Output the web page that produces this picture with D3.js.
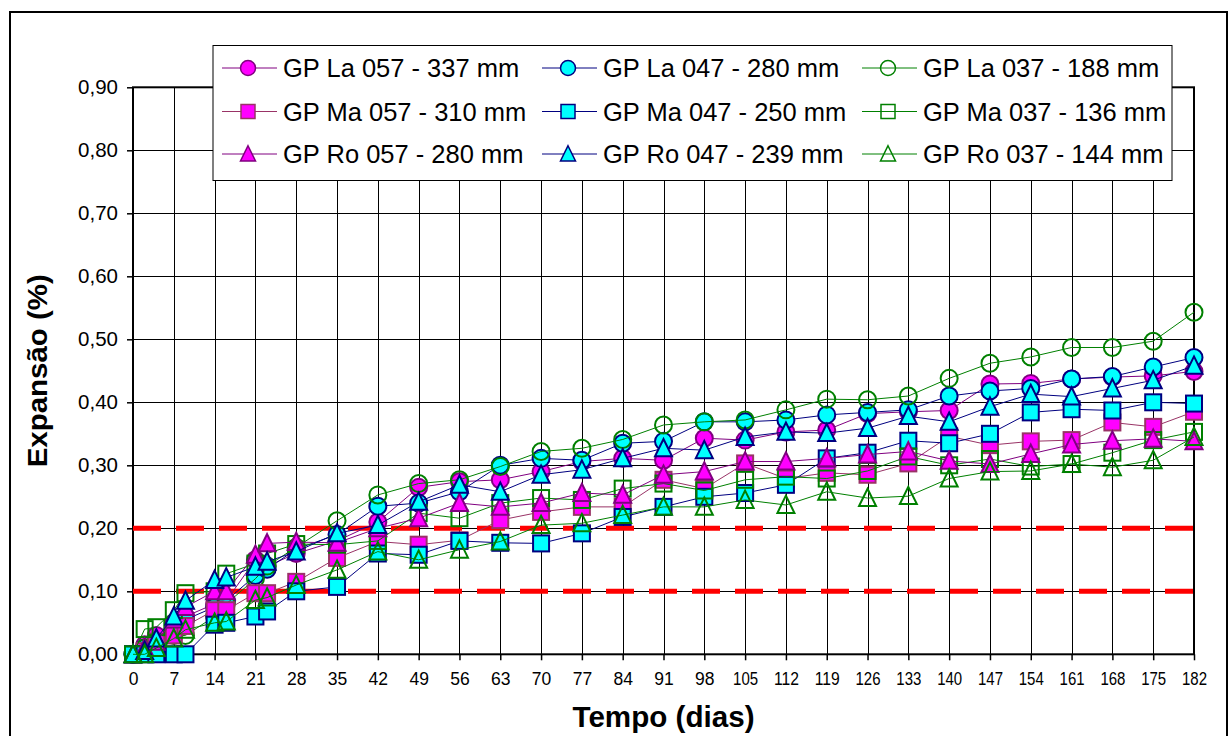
<!DOCTYPE html>
<html>
<head>
<meta charset="utf-8">
<script src="https://cdn.jsdelivr.net/npm/d3@7"></script>
<style>
  html, body { margin: 0; padding: 0; background: #fff; }
  svg { display: block; font-family: "Liberation Sans", Arial, sans-serif; }
</style>
</head>
<body>
<svg id="chart" width="1231" height="736"></svg>
<script>
// ---------- data ----------
const days = [0, 2, 4, 7, 9, 14, 16, 21, 23, 28, 35, 42, 49, 56, 63, 70, 77, 84, 91, 98, 105, 112, 119, 126, 133, 140, 147, 154, 161, 168, 175, 182];

const la057 = [0, 0.015, 0.03, 0.05, 0.06, 0.08, 0.085, 0.15, 0.14, 0.16, 0.18, 0.21, 0.265, 0.274, 0.277, 0.29, 0.306, 0.311, 0.308, 0.343, 0.34, 0.353, 0.356, 0.382, 0.385, 0.387, 0.429, 0.43, 0.437, 0.44, 0.442, 0.449];
const la047 = [0, 0.01, 0.02, 0.04, 0.055, 0.075, 0.085, 0.125, 0.135, 0.167, 0.19, 0.235, 0.24, 0.258, 0.30, 0.311, 0.308, 0.335, 0.338, 0.369, 0.369, 0.372, 0.38, 0.384, 0.388, 0.41, 0.418, 0.422, 0.437, 0.441, 0.456, 0.471];
const la037 = [0, 0.01, 0.02, 0.03, 0.03, 0.06, 0.08, 0.12, 0.14, 0.17, 0.212, 0.253, 0.271, 0.277, 0.298, 0.322, 0.327, 0.341, 0.364, 0.369, 0.372, 0.388, 0.405, 0.404, 0.41, 0.438, 0.462, 0.472, 0.487, 0.487, 0.497, 0.543];
const ma057 = [0, 0.005, 0.02, 0.03, 0.045, 0.07, 0.07, 0.097, 0.097, 0.115, 0.153, 0.179, 0.174, 0.181, 0.213, 0.226, 0.234, 0.234, 0.277, 0.263, 0.303, 0.279, 0.288, 0.285, 0.303, 0.346, 0.332, 0.338, 0.34, 0.368, 0.361, 0.385];
const ma047 = [0, 0, 0, 0, 0, 0.047, 0.05, 0.06, 0.068, 0.10, 0.107, 0.16, 0.158, 0.18, 0.177, 0.176, 0.192, 0.218, 0.234, 0.25, 0.256, 0.269, 0.311, 0.32, 0.339, 0.335, 0.35, 0.384, 0.389, 0.387, 0.4, 0.398];
const ma037 = [0, 0.04, 0.043, 0.07, 0.097, 0.1, 0.128, 0.144, 0.16, 0.175, 0.174, 0.18, 0.224, 0.216, 0.24, 0.248, 0.245, 0.263, 0.271, 0.26, 0.277, 0.282, 0.279, 0.291, 0.314, 0.30, 0.31, 0.298, 0.302, 0.32, 0.34, 0.353];
const ro057 = [0, 0.01, 0.02, 0.055, 0.075, 0.1, 0.1, 0.158, 0.176, 0.178, 0.177, 0.20, 0.216, 0.24, 0.234, 0.24, 0.256, 0.253, 0.285, 0.29, 0.306, 0.306, 0.311, 0.317, 0.322, 0.307, 0.302, 0.318, 0.333, 0.339, 0.342, 0.338];
const ro047 = [0, 0.005, 0.025, 0.06, 0.085, 0.118, 0.122, 0.139, 0.147, 0.163, 0.192, 0.205, 0.242, 0.269, 0.258, 0.285, 0.293, 0.311, 0.327, 0.324, 0.345, 0.353, 0.351, 0.359, 0.378, 0.369, 0.393, 0.413, 0.409, 0.422, 0.435, 0.458];
const ro037 = [0, 0, 0.01, 0.025, 0.039, 0.05, 0.052, 0.086, 0.09, 0.11, 0.134, 0.163, 0.15, 0.166, 0.179, 0.205, 0.208, 0.221, 0.234, 0.234, 0.245, 0.237, 0.258, 0.248, 0.251, 0.279, 0.29, 0.291, 0.302, 0.297, 0.308, 0.345];

const seriesNames = ["GP La 057 - 337 mm", "GP La 047 - 280 mm", "GP La 037 - 188 mm",
                     "GP Ma 057 - 310 mm", "GP Ma 047 - 250 mm", "GP Ma 037 - 136 mm",
                     "GP Ro 057 - 280 mm", "GP Ro 047 - 239 mm", "GP Ro 037 - 144 mm"];
const seriesValues = [la057, la047, la037, ma057, ma047, ma037, ro057, ro047, ro037];
const xTicks = d3.range(0, 183, 7);
const yTicks = [0, 0.1, 0.2, 0.3, 0.4, 0.5, 0.6, 0.7, 0.8, 0.9];
const limitLines = [0.10, 0.20];
const xTitle = "Tempo (dias)";
const yTitle = "Expansão (%)";

// ---------- styles ----------
const styles = [
  { shape: "circle",   fill: "#FF00FF", stroke: "#800080", line: "#800080" },
  { shape: "circle",   fill: "#00FFFF", stroke: "#000080", line: "#000080" },
  { shape: "circle",   fill: "none",    stroke: "#008000", line: "#008000" },
  { shape: "square",   fill: "#FF00FF", stroke: "#993366", line: "#993366" },
  { shape: "square",   fill: "#00FFFF", stroke: "#000080", line: "#000080" },
  { shape: "square",   fill: "none",    stroke: "#008000", line: "#008000" },
  { shape: "triangle", fill: "#FF00FF", stroke: "#800080", line: "#800080" },
  { shape: "triangle", fill: "#00FFFF", stroke: "#000080", line: "#000080" },
  { shape: "triangle", fill: "none",    stroke: "#008000", line: "#008000" }
];

const svg = d3.select("#chart");
const L = 133, R = 1194, T = 87.3, B = 654.3;
const x = d3.scaleLinear().domain([0, 182]).range([L, R]);
const y = d3.scaleLinear().domain([0, 0.9]).range([B, T]);

// outer frame
svg.append("rect").attr("x", 10).attr("y", 12).attr("width", 1217).attr("height", 740)
  .attr("fill", "#fff").attr("stroke", "#000").attr("stroke-width", 2);

// gridlines
const grid = svg.append("g");
grid.selectAll("line.v").data(xTicks.slice(1)).join("line")
  .attr("x1", d => Math.round(x(d)) + 0.5).attr("x2", d => Math.round(x(d)) + 0.5)
  .attr("y1", T).attr("y2", B).attr("stroke", "#000").attr("stroke-width", 1);
grid.selectAll("line.h").data(yTicks.slice(1)).join("line")
  .attr("x1", L).attr("x2", R)
  .attr("y1", d => Math.round(y(d)) + 0.5).attr("y2", d => Math.round(y(d)) + 0.5)
  .attr("stroke", "#000").attr("stroke-width", 1);

// plot border
svg.append("rect").attr("x", L).attr("y", T).attr("width", R - L).attr("height", B - T)
  .attr("fill", "none").attr("stroke", "#000").attr("stroke-width", 2);

// axes
const yAxis = d3.axisLeft(y).tickValues(yTicks).tickSize(6).tickPadding(9)
  .tickFormat(d => d3.format(".2f")(d).replace(".", ","));
const gy = svg.append("g").attr("transform", `translate(${L},0)`).call(yAxis);
gy.select(".domain").remove();
gy.selectAll(".tick line").attr("stroke", "#000").attr("stroke-width", 1.5);
gy.selectAll(".tick text").attr("font-size", 20.5).attr("fill", "#000")
  .attr("font-family", "Liberation Sans, Arial, sans-serif");

const xAxis = d3.axisBottom(x).tickValues(xTicks).tickSize(6).tickPadding(12);
const gx = svg.append("g").attr("transform", `translate(0,${B})`).call(xAxis);
gx.select(".domain").remove();
gx.selectAll(".tick line").attr("stroke", "#000").attr("stroke-width", 1.5);
gx.selectAll(".tick text").attr("font-size", 17.5).attr("fill", "#000")
  .attr("font-family", "Liberation Sans, Arial, sans-serif")
  .each(function(d) {
    if (d >= 100) d3.select(this).attr("textLength", 25).attr("lengthAdjust", "spacingAndGlyphs");
  });

// limit lines
svg.append("g").selectAll("line").data(limitLines).join("line")
  .attr("x1", L).attr("x2", R).attr("y1", d => y(d)).attr("y2", d => y(d))
  .attr("stroke", "#FF0000").attr("stroke-width", 5).attr("stroke-dasharray", "28,15");

// marker drawing
function drawMarker(sel, shape, size) {
  if (shape === "circle") {
    return sel.append("circle").attr("r", size);
  } else if (shape === "square") {
    return sel.append("rect").attr("x", -size + 0.5).attr("y", -size + 0.5)
      .attr("width", 2 * size - 1).attr("height", 2 * size - 1);
  } else {
    const h = size * 1.1;
    return sel.append("path").attr("d", `M0,${-h} L${size},${h * 0.85} L${-size},${h * 0.85} Z`);
  }
}

const line = d3.line().x((d, i) => x(days[i])).y(d => y(d));
seriesValues.forEach((vals, si) => {
  const st = styles[si];
  const g = svg.append("g");
  g.append("path").datum(vals).attr("d", line).attr("fill", "none")
    .attr("stroke", st.line).attr("stroke-width", 1);
  vals.forEach((v, i) => {
    const m = g.append("g").attr("transform", `translate(${x(days[i])},${y(v)})`);
    drawMarker(m, st.shape, 8.5).attr("fill", st.fill).attr("stroke", st.stroke).attr("stroke-width", 2);
  });
});

// legend
const lg = svg.append("g");
lg.append("rect").attr("x", 213).attr("y", 45.5).attr("width", 959).attr("height", 135)
  .attr("fill", "#fff").attr("stroke", "#000").attr("stroke-width", 1);
const colX = [222, 542, 862];
const rowY = [68, 111.5, 154];
seriesNames.forEach((name, si) => {
  const col = si % 3, row = Math.floor(si / 3);
  const st = styles[si];
  const cx = colX[col], cy = rowY[row];
  lg.append("line").attr("x1", cx).attr("x2", cx + 55).attr("y1", cy).attr("y2", cy)
    .attr("stroke", st.line).attr("stroke-width", 1);
  const m = lg.append("g").attr("transform", `translate(${cx + 26},${cy})`);
  drawMarker(m, st.shape, 7.5).attr("fill", st.fill).attr("stroke", st.stroke).attr("stroke-width", 1.5);
  lg.append("text").attr("x", cx + 61).attr("y", cy).attr("dy", "0.36em")
    .attr("font-size", 25.5).attr("fill", "#000").text(name);
});

// axis titles
svg.append("text").attr("x", (L + R) / 2).attr("y", 727).attr("text-anchor", "middle")
  .attr("font-size", 29).attr("font-weight", "bold").attr("textLength", 182)
  .attr("lengthAdjust", "spacingAndGlyphs").text(xTitle);
svg.append("text").attr("transform", `translate(47,${(T + B) / 2}) rotate(-90)`)
  .attr("text-anchor", "middle").attr("font-size", 28).attr("font-weight", "bold")
  .attr("textLength", 193).attr("lengthAdjust", "spacingAndGlyphs").text(yTitle);
</script>
</body>
</html>
